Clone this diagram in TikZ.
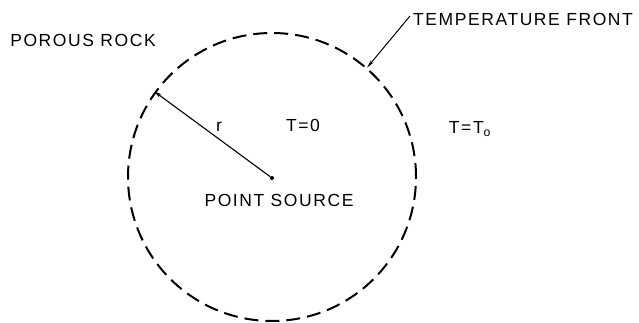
\documentclass[tikz,border=0pt]{standalone}
\usepackage{fontspec}
\setmainfont{Liberation Sans}[LetterSpace=9]
\usetikzlibrary{arrows.meta}

\begin{document}
\begin{tikzpicture}[
  x=1pt,y=-1pt,
  >=Stealth,
  lbl/.style={font=\fontsize{17.5}{20}\selectfont,inner sep=0pt},
  front/.style={circle,draw,line width=2pt,dash pattern=on 14pt off 7pt,
    minimum size=288pt,inner sep=0pt}
]
\useasboundingbox (0,0) rectangle (639,323);
% --- heated zone round the source ---
\node[front] (tf) at (272,177) {};
\node[circle,fill,inner sep=0pt,minimum size=4pt] (src) at (272,178) {};
\node[lbl] (srclbl) at (279,200) {POINT SOURCE};

% --- radius ---
\draw[-{Stealth[open,length=7pt,width=4pt]},line width=1.1pt] (src) -- (tf.144);
\node[lbl] (rlbl) at (219,127) {r};

% --- temperatures and labels ---
\node[lbl] (tin) at (303,125) {T=0};
\node[lbl] (tout) at (470,129) {T=T\textsubscript{o}};
\node[lbl] (rock) at (83,40) {POROUS ROCK};
\node[lbl,anchor=west] (tflbl) at (413,19) {TEMPERATURE FRONT};
\draw[-{Stealth[length=8pt,width=3.5pt]},line width=1pt] ([xshift=-3pt,yshift=3pt]tflbl.west) -- (tf.49);
\end{tikzpicture}
\end{document}
